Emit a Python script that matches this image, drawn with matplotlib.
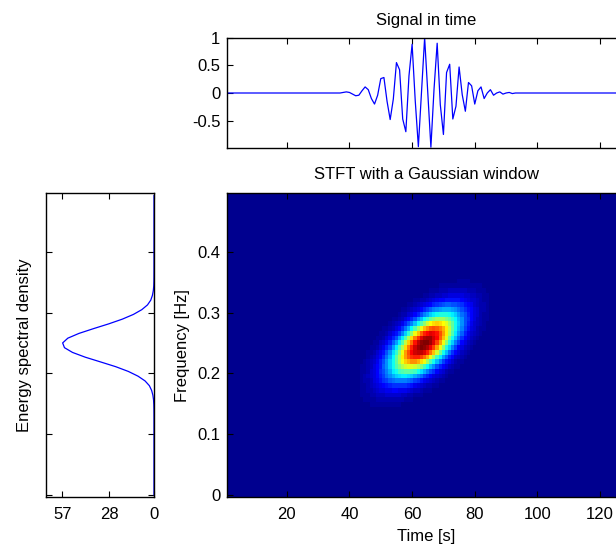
import numpy as np
import matplotlib
matplotlib.use("Agg")
import matplotlib.pyplot as plt
from matplotlib.colors import ListedColormap

plt.rcParams['font.family'] = ['Liberation Sans', 'DejaVu Sans']
plt.rcParams['font.size'] = 12
plt.rcParams['axes.unicode_minus'] = False

N = 128
time = np.arange(1, N + 1)
sig_start = 37
sig_vals = [0.00, 0.01, 0.02, 0.01, -0.02, -0.05, -0.04, 0.04, 0.11, 0.06,
            -0.10, -0.20, -0.04, 0.26, 0.28, -0.15, -0.48, -0.11, 0.55, 0.42,
            -0.47, -0.70, 0.31, 0.88, -0.14, -0.97, 0.02, 1.00, 0.00, -0.98,
            0.07, 0.90, -0.21, -0.75, 0.37, 0.52, -0.47, -0.24, 0.47, -0.03,
            -0.33, 0.19, 0.13, -0.20, 0.04, 0.11, -0.10, 0.00, 0.06, -0.04,
            0.00, 0.02, -0.02, 0.00, 0.01, -0.01]
sig = np.zeros(N)
sig[sig_start - 1:sig_start - 1 + len(sig_vals)] = sig_vals

win_len = 33          # gaussian window length
esd_ticks = [0, 28, 57]
esd_xmax = 67.3
freq_ticks = [0, 0.1, 0.2, 0.3, 0.4]
time_ticks = [20, 40, 60, 80, 100, 120]
sig_ticks = [-0.5, 0, 0.5, 1]

# matlab style jet(64)
n = 16
u = np.concatenate([np.arange(1, n + 1) / n, np.ones(n - 1), np.arange(n, 0, -1) / n])
g = n // 2 + np.arange(1, len(u) + 1)
jet = np.zeros((64, 3))
for ch, idx in enumerate([g + n, g, g - n]):
    ok = (idx >= 1) & (idx <= 64)
    jet[idx[ok] - 1, ch] = u[ok]
cmap = ListedColormap(jet)

# analytic signal
X = np.fft.fft(sig)
hw = np.zeros(N)
hw[0] = 1
hw[1:N // 2] = 2
hw[N // 2] = 1
z = np.fft.ifft(X * hw)

# STFT with gaussian window
Lh = (win_len - 1) // 2
h = np.exp(np.log(0.005) * np.linspace(-1, 1, win_len) ** 2)
h = h / np.linalg.norm(h)
tfr = np.zeros((N, N), complex)
for ti in range(N):
    tau = np.arange(-min(N // 2 - 1, Lh, ti), min(N // 2 - 1, Lh, N - 1 - ti) + 1)
    tfr[tau % N, ti] = z[ti + tau] * h[Lh + tau]
tfr = np.abs(np.fft.fft(tfr, axis=0)) ** 2
tfr = tfr[:N // 2]

freqs = np.arange(N // 2) / N
esd = np.abs(X[:N // 2]) ** 2

fig = plt.figure(figsize=(6.16, 5.44), dpi=100)
W, H = 616.0, 544.0
x0, x1 = 227.3, 625.1


def style(ax):
    ax.tick_params(direction='in', top=True, right=True, length=4, width=0.8,
                   pad=5, labelsize=12)
    ax.tick_params(axis='x', pad=7)
    for s in ax.spines.values():
        s.set_linewidth(1.0)


# signal
ax1 = fig.add_axes([x0 / W, 1 - 148.3 / H, (x1 - x0) / W, 110.6 / H])
ax1.plot(time, sig, color='b', lw=0.9)
ax1.set_xlim(1, 128)
ax1.set_ylim(-1, 1)
ax1.set_xticks(time_ticks)
ax1.set_xticklabels([])
ax1.set_yticks(sig_ticks)
ax1.set_yticklabels(['-0.5', '0', '0.5', '1'])
ax1.set_title('Signal in time', fontsize=12, pad=9)
style(ax1)

# STFT
ax2 = fig.add_axes([x0 / W, 1 - 497.3 / H, (x1 - x0) / W, 304.0 / H])
ax2.imshow(tfr, origin='lower', aspect='auto', cmap=cmap, interpolation='nearest',
           extent=[0.5, N + 0.5, -0.5 / N, (N // 2 - 0.5) / N])
ax2.set_xlim(1, 128)
ax2.set_ylim(-0.5 / N, (N // 2 - 0.5) / N)
ax2.set_xticks(time_ticks)
ax2.set_yticks(freq_ticks)
ax2.set_yticklabels(['0', '0.1', '0.2', '0.3', '0.4'])
ax2.set_xlabel('Time [s]', labelpad=5)
ax2.set_ylabel('Frequency [Hz]', labelpad=5.5)
ax2.set_title('STFT with a Gaussian window', fontsize=12, pad=10.5)
style(ax2)

# energy spectral density
ax3 = fig.add_axes([45.7 / W, 1 - 497.3 / H, 108.3 / W, 304.0 / H])
ax3.plot(esd, freqs, color='b', lw=0.9)
ax3.set_xlim(esd_xmax, 0)
ax3.set_ylim(-0.5 / N, (N // 2 - 0.5) / N)
ax3.set_xticks(esd_ticks)
ax3.set_yticks(freq_ticks)
ax3.set_yticklabels([])
ax3.set_ylabel('Energy spectral density', labelpad=5)
style(ax3)

fig.savefig('out.png', dpi=100)
